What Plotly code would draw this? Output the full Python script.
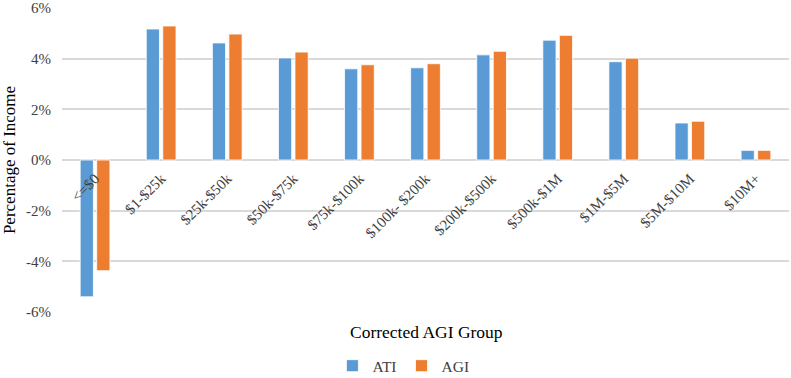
import plotly.graph_objects as go

# Share of income by corrected AGI group (percent)
groups = ["<=$0", "$1-$25k", "$25k-$50k", "$50k-$75k", "$75k-$100k", "$100k- $200k",
          "$200k-$500k", "$500k-$1M", "$1M-$5M", "$5M-$10M", "$10M+"]
ati = [-5.40, 5.17, 4.62, 4.03, 3.60, 3.64, 4.15, 4.73, 3.88, 1.46, 0.38]
agi = [-4.37, 5.29, 4.97, 4.26, 3.76, 3.80, 4.29, 4.92, 4.02, 1.53, 0.38]

y_range = [-6, 6]
y_ticks = [-6, -4, -2, 0, 2, 4, 6]

serif = "Liberation Serif, serif"
grid = "#d9d9d9"
text_grey = "#404040"

fig = go.Figure()
fig.add_bar(name="ATI", x=groups, y=ati, marker=dict(color="#5B9BD5", line=dict(color="white", width=0.8)))
fig.add_bar(name="AGI", x=groups, y=agi, marker=dict(color="#ED7D31", line=dict(color="white", width=0.8)))

H, T, B = 378, 8, 66
fig.update_layout(
    width=791, height=H,
    margin=dict(l=62, r=2, t=T, b=B, autoexpand=False),
    paper_bgcolor="white", plot_bgcolor="white",
    barmode="group", bargap=0.5, bargroupgap=0.2,
    font=dict(family=serif, color=text_grey, size=14),
    showlegend=True,
    legend=dict(orientation="h", x=0.51, xanchor="center", xref="container",
                y=-0.178, yanchor="middle", yref="paper",
                font=dict(family=serif, size=15.5, color=text_grey), itemwidth=30,
                traceorder="normal", tracegroupgap=0),
    yaxis=dict(range=y_range, tickvals=y_ticks, ticktext=[f"{v}%" for v in y_ticks],
               showgrid=True, gridcolor=grid, gridwidth=1.5,
               zeroline=True, zerolinecolor=grid, zerolinewidth=1.5,
               showline=False, ticks="", ticklabelstandoff=10,
               tickfont=dict(family=serif, size=15, color=text_grey),
               title=dict(text="Percentage of Income",
                          font=dict(family=serif, size=17, color="#000000"), standoff=8)),
    xaxis=dict(anchor="free", position=0.5, tickangle=-45, showgrid=False, showline=False,
               ticks="", ticklabelstandoff=6,
               tickfont=dict(family=serif, size=15, color=text_grey), automargin=False),
    annotations=[dict(text="Corrected AGI Group", xref="paper", yref="paper", x=0.502,
                      y=-0.025, xanchor="center", yanchor="top", showarrow=False,
                      font=dict(family=serif, size=17.5, color="#000000"))],
)

fig.write_html("out.html")
